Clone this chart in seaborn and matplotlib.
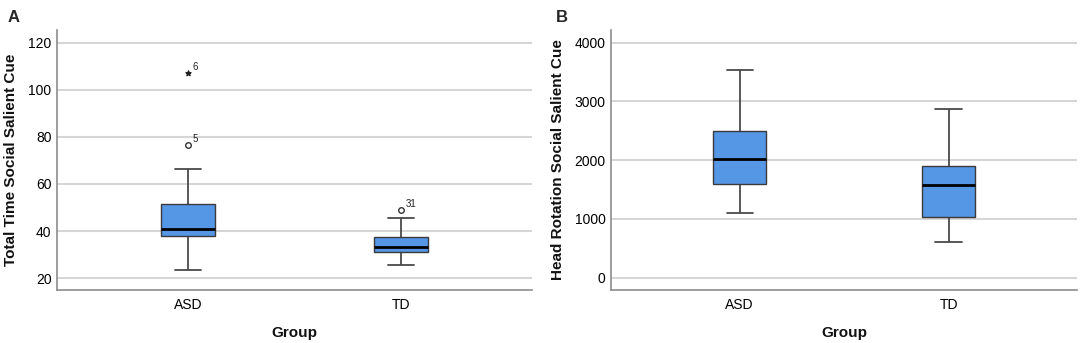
import seaborn as sns
import pandas as pd
import matplotlib.pyplot as plt

groups = ["ASD", "TD"]

# five-number summaries: low whisker, Q1, median, Q3, high whisker
time_summary = {"ASD": [23.4, 38.0, 40.9, 51.4, 66.5],
                "TD": [25.5, 31.1, 33.2, 37.4, 45.7]}
time_outliers = [("ASD", 76.6, "5", "o"), ("ASD", 107.1, "6", "*"), ("TD", 48.9, "31", "o")]

head_summary = {"ASD": [1106, 1595, 2015, 2497, 3535],
                "TD": [602, 1033, 1578, 1906, 2871]}
head_outliers = []

time_ticks = [20, 40, 60, 80, 100, 120]
head_ticks = [0, 1000, 2000, 3000, 4000]

sns.set_theme(style="white")
plt.rcParams['font.family'] = ['Liberation Sans', 'DejaVu Sans']

box_color = "#5596e5"


def make_df(summary):
    rows = []
    for g in groups:
        for v in summary[g]:
            rows.append({"Group": g, "value": v})
    return pd.DataFrame(rows)


def draw_panel(ax, summary, outliers, ticks, ylim, ylabel):
    df = make_df(summary)
    for t in ticks:
        ax.axhline(t, color="#d6d6d6", linewidth=1.5, zorder=0)
    sns.boxplot(data=df, x="Group", y="value", order=groups, ax=ax,
                whis=(0, 100), width=0.25, color=box_color, saturation=1,
                showfliers=False,
                boxprops=dict(edgecolor="#3a3a3a", linewidth=1.0, zorder=3),
                whiskerprops=dict(color="#4a4a4a", linewidth=1.3),
                capprops=dict(color="#4a4a4a", linewidth=1.3),
                medianprops=dict(color="black", linewidth=2.0, zorder=4))
    for g, v, lab, mk in outliers:
        xi = groups.index(g)
        if mk == "o":
            ax.scatter([xi], [v], s=16, marker="o", facecolor="white",
                       edgecolor="#333333", linewidth=1.0, zorder=5)
        else:
            ax.scatter([xi], [v], s=14, marker="*", color="#222222", zorder=5)
        ax.annotate(lab, (xi, v), xytext=(3, 2), textcoords="offset points",
                    fontsize=7, color="#222222")
    ax.set_xlim(-0.615, 1.615)
    ax.set_ylim(*ylim)
    ax.set_yticks(ticks)
    ax.tick_params(axis="both", length=0, labelsize=10, colors="black")
    ax.tick_params(axis="y", pad=4)
    ax.tick_params(axis="x", pad=6)
    for s in ["top", "right"]:
        ax.spines[s].set_visible(False)
    for s in ["left", "bottom"]:
        ax.spines[s].set_color("#8c8c8c")
        ax.spines[s].set_linewidth(1.2)
    ax.set_xlabel("Group", fontsize=11, fontweight="bold", labelpad=10,
                  color="#111111")
    ax.set_ylabel(ylabel, fontsize=11, fontweight="bold", labelpad=7,
                  color="#111111")


fig = plt.figure(figsize=(10.84, 3.43), dpi=100)
axA = fig.add_axes([0.0526, 0.1545, 0.4382, 0.758])
axB = fig.add_axes([0.5637, 0.1545, 0.4299, 0.758])

draw_panel(axA, time_summary, time_outliers, time_ticks, (14.9, 125.5),
           "Total Time Social Salient Cue")
draw_panel(axB, head_summary, head_outliers, head_ticks, (-210, 4216),
           "Head Rotation Social Salient Cue")

fig.text(8 / 1084, 1 - 22 / 343, "A", fontsize=12, fontweight="bold",
         ha="left", va="baseline")
fig.text(556 / 1084, 1 - 22 / 343, "B", fontsize=12, fontweight="bold",
         ha="left", va="baseline")

fig.savefig("out.png", dpi=100)
